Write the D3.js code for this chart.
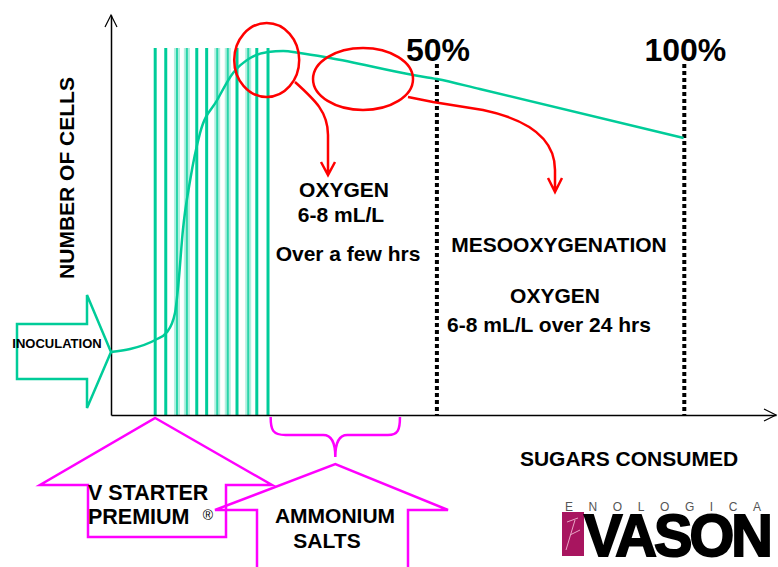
<!DOCTYPE html>
<html>
<head>
<meta charset="utf-8">
<script src="https://cdn.jsdelivr.net/npm/d3@7"></script>
<style>
  body { margin: 0; background: #fff; }
  text { font-family: "Liberation Sans", Arial, sans-serif; font-weight: bold; fill: #000; }
</style>
</head>
<body>
<div id="chart"></div>
<script>
let width  = 778,
    height = 567;

// yeast growth curve (time units, cell population units)
let curveTime  = [0, 2.9, 6.7, 8.5, 9.7, 10.2, 10.9, 12, 13.5, 16.1, 18.5, 21.1, 23.8, 26.1, 28.6, 33.2, 45.8, 49.4, 55.9, 86.8];
let curveCells = [15.75, 16.5, 18.75, 20.75, 25.5, 32.5, 46.25, 58.75, 70.5, 78.75, 85.5, 89.25, 90.75, 91, 90.5, 89.25, 85, 84, 81.5, 69.25];

// V STARTER PREMIUM additions (stripes)
let stripeTime  = [6.7, 8.3, 10, 11.5, 13, 14.5, 16.1, 17.7, 19.1, 20.8, 22.1, 23.8];
let stripeSolid = [true, true, false, false, true, true, false, false, true, false, true, true];
let stripeTop   = 91.75;

// sugar consumption milestones
let milestoneLabels = ["50%", "100%"];
let milestoneTime   = [49.4, 86.9];
let milestoneTop    = 87.75;

// ammonium salts window
let ammoniumStart = 24.2,
    ammoniumEnd   = 43.8;

let green   = "#00cc99",
    red     = "#ff0000",
    magenta = "#ff00ff";

let x = d3.scaleLinear().domain([0, 100.8]).range([111, 776]);
let y = d3.scaleLinear().domain([0, 100]).range([415, 15]);

let svg =
  d3.select("#chart")
    .append("svg")
      .attr("width", width)
      .attr("height", height);

// stripes
let stripes =
  svg.append("g")
    .selectAll("g")
    .data(stripeTime.map((t, i) => ({t: t, solid: stripeSolid[i]})))
    .enter()
    .append("g");

stripes.filter(d => !d.solid)
  .append("rect")
    .attr("x", d => x(d.t) - 3)
    .attr("width", 6)
    .attr("y", y(stripeTop))
    .attr("height", y(0) - y(stripeTop))
    .attr("fill", green)
    .attr("opacity", 0.3);

stripes.append("line")
    .attr("x1", d => x(d.t))
    .attr("x2", d => x(d.t))
    .attr("y1", y(stripeTop))
    .attr("y2", y(0))
    .attr("stroke", green)
    .attr("stroke-width", d => d.solid ? 3 : 2)
    .attr("opacity", d => d.solid ? 1 : 0.75);

// axes
svg.append("g")
    .attr("transform", translate(0, y(0)))
    .call(d3.axisBottom(x).tickValues([]).tickSizeOuter(0))
    .select(".domain")
      .attr("stroke-width", 1.5);

svg.append("g")
    .attr("transform", translate(x(0), 0))
    .call(d3.axisLeft(y).tickValues([]).tickSizeOuter(0))
    .select(".domain")
      .attr("stroke-width", 1.5);

svg.append("path")
    .attr("d", "M" + (x(0) - 6) + "," + (y(100) + 12) + "L" + x(0) + "," + y(100) + "L" + (x(0) + 6) + "," + (y(100) + 12))
    .attr("fill", "none").attr("stroke", "#000").attr("stroke-width", 1.2);

svg.append("path")
    .attr("d", "M" + (x(100.8) - 12) + "," + (y(0) - 6) + "L" + x(100.8) + "," + y(0) + "L" + (x(100.8) - 12) + "," + (y(0) + 6))
    .attr("fill", "none").attr("stroke", "#000").attr("stroke-width", 1.2);

// milestones
let ms =
  svg.append("g")
    .selectAll("g")
    .data(milestoneTime.map((t, i) => ({t: t, label: milestoneLabels[i]})))
    .enter()
    .append("g");

ms.append("line")
    .attr("x1", d => x(d.t))
    .attr("x2", d => x(d.t))
    .attr("y1", y(milestoneTop))
    .attr("y2", y(0))
    .attr("stroke", "#000")
    .attr("stroke-width", 4)
    .attr("stroke-dasharray", "4,3");

ms.append("text")
    .attr("x", d => x(d.t) + 1)
    .attr("y", y(milestoneTop) - 3)
    .attr("text-anchor", "middle")
    .style("font-size", "32px")
    .text(d => d.label);

// growth curve
let line =
  d3.line()
    .x((d, i) => x(curveTime[i]))
    .y(d => y(d))
    .curve(d3.curveMonotoneX);

svg.append("path")
    .attr("d", line(curveCells))
    .attr("fill", "none")
    .attr("stroke", green)
    .attr("stroke-width", 2.5);

// inoculation arrow
let tipX = x(0), tipY = y(curveCells[0]);
svg.append("path")
    .attr("d", "M17," + (tipY - 28) + "H87V" + (tipY - 57) + "L" + tipX + "," + tipY +
               "L87," + (tipY + 56) + "V" + (tipY + 27) + "H17Z")
    .attr("fill", "none")
    .attr("stroke", green)
    .attr("stroke-width", 2.5);

svg.append("text")
    .attr("x", 57).attr("y", tipY - 4)
    .attr("text-anchor", "middle")
    .style("font-size", "13px")
    .text("INOCULATION");

// red annotations
svg.append("ellipse")
    .attr("cx", x(23.6)).attr("cy", y(88.75))
    .attr("rx", 32.5).attr("ry", 37)
    .attr("fill", "none").attr("stroke", red).attr("stroke-width", 2.5);

svg.append("ellipse")
    .attr("cx", x(38.2)).attr("cy", y(84))
    .attr("rx", 50).attr("ry", 31)
    .attr("fill", "none").attr("stroke", red).attr("stroke-width", 2.5);

svg.append("path")
    .attr("d", "M295,82C315,100 328,112 328,135L328,175M321,162L328,175L335,162")
    .attr("fill", "none").attr("stroke", red).attr("stroke-width", 2.5);

svg.append("path")
    .attr("d", "M408,97L433,102L483,110C530,120 555,140 555,170L555,192M548,178L555,192L562,178")
    .attr("fill", "none").attr("stroke", red).attr("stroke-width", 2.5);

// text blocks
function textLines(lines, anchor) {
  lines.forEach(function(l) {
    svg.append("text")
        .attr("x", l[0]).attr("y", l[1])
        .attr("text-anchor", anchor || "middle")
        .style("font-size", l[3] + "px")
        .text(l[2]);
  });
}

textLines([
  [344, 197, "OXYGEN", 21],
  [341, 222, "6-8 mL/L", 21],
  [348, 261, "Over a few hrs", 21],
  [559, 252, "MESOOXYGENATION", 21],
  [555, 303, "OXYGEN", 21],
  [549, 332, "6-8 mL/L  over 24 hrs", 21],
  [629, 466, "SUGARS CONSUMED", 21]
]);

svg.append("text")
    .attr("transform", translate(74, 178) + " rotate(-90)")
    .attr("text-anchor", "middle")
    .style("font-size", "21px")
    .text("NUMBER OF CELLS");

// magenta block arrows
let vx = x(stripeTime[0]);
svg.append("path")
    .attr("d", "M" + vx + ",418L272,485H226V537H88V485H40Z")
    .attr("fill", "none").attr("stroke", magenta).attr("stroke-width", 2.5);

let ax = x((ammoniumStart + ammoniumEnd) / 2);
svg.append("path")
    .attr("d", "M257,570V510H215L" + ax + ",464L448,510H408V570")
    .attr("fill", "none").attr("stroke", magenta).attr("stroke-width", 2.5);

let b0 = x(ammoniumStart), b1 = x(ammoniumEnd);
svg.append("path")
    .attr("d", "M" + b0 + ",417C" + b0 + ",430 " + (b0 + 2) + ",435 " + (b0 + 15) + ",435" +
               "L" + (ax - 12) + ",435C" + (ax - 3) + ",435 " + ax + ",445 " + ax + ",457" +
               "C" + ax + ",445 " + (ax + 3) + ",435 " + (ax + 12) + ",435" +
               "L" + (b1 - 12) + ",435C" + (b1 - 2) + ",435 " + b1 + ",430 " + b1 + ",417")
    .attr("fill", "none").attr("stroke", magenta).attr("stroke-width", 2.5);

textLines([
  [88, 500, "V STARTER", 21.5],
  [88, 524, "PREMIUM", 21.5]
], "start");

textLines([
  [335, 523, "AMMONIUM", 21],
  [327, 548, "SALTS", 21]
]);

svg.append("text")
    .attr("x", 208).attr("y", 520)
    .attr("text-anchor", "middle")
    .style("font-size", "14px")
    .style("font-weight", "normal")
    .text("®");

// logo
let logo = svg.append("g");
logo.append("rect")
    .attr("x", 562).attr("y", 512)
    .attr("width", 22).attr("height", 44)
    .attr("fill", "#a8155f");
logo.append("path")
    .attr("d", "M566,550L575,520M570,535L580,530M567,522L578,518")
    .attr("stroke", "#e9a6c6").attr("stroke-width", 1).attr("fill", "none");
logo.append("text")
    .attr("x", 565).attr("y", 511)
    .attr("textLength", 196)
    .attr("lengthAdjust", "spacing")
    .style("font-size", "12px")
    .style("font-weight", "normal")
    .style("fill", "#555")
    .text("ENOLOGICA");
logo.append("text")
    .attr("x", 584).attr("y", 556)
    .attr("textLength", 186)
    .attr("lengthAdjust", "spacingAndGlyphs")
    .style("font-size", "60px")
    .style("letter-spacing", "-3px")
    .style("stroke", "#000")
    .style("stroke-width", 2)
    .text("VASON");

function translate(x, y=0) {
  return "translate({x}, {y})"
          .replace("{x}", x)
          .replace("{y}", y);
}
</script>
</body>
</html>
